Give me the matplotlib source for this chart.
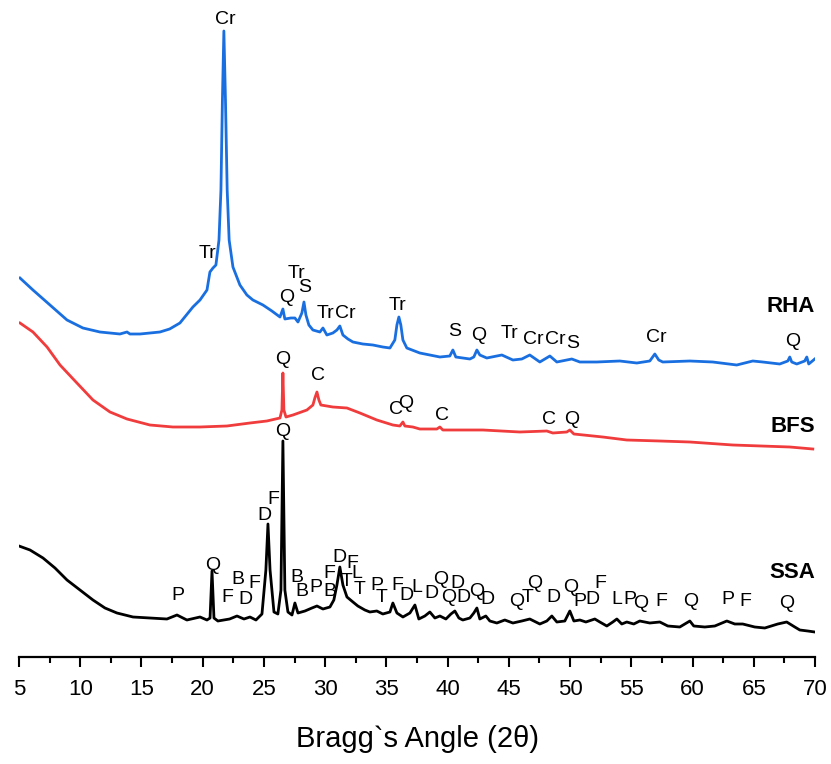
import matplotlib
matplotlib.use("Agg")
import matplotlib.pyplot as plt
from matplotlib.ticker import MultipleLocator

plt.rcParams['font.family'] = ['Liberation Sans', 'DejaVu Sans']

# ---------- XRD patterns (2theta, intensity a.u.) ----------
rha_2theta = [5.08, 6.14, 7.53, 8.92, 10.22, 11.61, 13.24, 13.82, 14.06, 14.88, 15.7, 16.51,
              17.3, 18.14, 19.2, 19.78, 20.35, 20.59, 20.84, 21.08, 21.33, 21.49, 21.61, 21.73,
              21.86, 22.0, 22.16, 22.47, 23.04, 23.61, 24.1, 24.92, 25.65, 26.31, 26.55,
              26.71, 27.2, 27.53, 27.78, 28.1, 28.27, 28.43, 28.67, 29.0, 29.57, 29.82,
              30.14, 30.63, 30.96, 31.2, 31.45, 31.86, 32.27, 33.08, 33.9, 34.71, 35.29,
              35.69, 35.86, 36.02, 36.18, 36.35, 36.67, 37.73, 39.37, 40.18, 40.43, 40.67,
              41.82, 42.14, 42.39, 42.63, 43.2, 44.43, 45.33, 46.06, 46.71, 47.53, 48.35,
              48.92, 50.14, 50.8, 52.18, 54.06, 55.45, 56.51, 56.92, 57.24, 57.57, 59.78,
              61.65, 63.61, 64.92, 65.73, 67.12, 67.78, 67.94, 68.1, 68.51, 69.16, 69.33,
              69.49, 69.98]
rha_int = [379, 367, 352, 337, 329, 325, 323, 325, 323, 323, 324, 325,
           328, 334, 350, 357, 367, 385, 389, 392, 417, 467, 557, 626,
           557, 467, 417, 390, 372, 362, 357, 352, 346, 340, 348,
           338, 339, 339, 335, 344, 355, 342, 332, 327, 325, 329,
           322, 324, 327, 331, 322, 318, 315, 313, 312, 310, 309,
           317, 332, 340, 332, 317, 309, 304, 300, 301, 307, 300,
           298, 300, 307, 302, 299, 302, 297, 298, 302, 295, 301,
           295, 298, 295, 295, 296, 294, 296, 303, 297, 295, 296,
           295, 292, 296, 295, 293, 296, 300, 295, 293, 296, 300,
           293, 298]

bfs_2theta = [5.08, 6.14, 7.29, 8.35, 9.73, 11.04, 12.43, 13.82, 15.69, 17.57, 19.78,
              21.98, 23.86, 25.24, 26.31, 26.47, 26.55, 26.63, 26.8, 27.37, 28.51, 29.0,
              29.16, 29.33, 29.49, 29.65, 30.63, 31.78, 32.84, 34.22, 35.53, 36.1, 36.35,
              36.51, 37.16, 37.73, 39.12, 39.37, 39.61, 42.88, 45.9, 48.1, 48.59, 49.73,
              49.98, 50.31, 52.67, 54.63, 57.33, 59.78, 63.29, 67.94, 69.82]
bfs_int = [334, 325, 310, 292, 274, 257, 245, 238, 232, 230, 230,
           231, 234, 236, 239, 247, 284, 247, 240, 242, 247, 252,
           259, 265, 257, 252, 250, 249, 244, 237, 232, 231, 235,
           231, 230, 228, 228, 230, 227, 227, 225, 226, 224, 225,
           227, 223, 220, 217, 216, 215, 212, 210, 208]

ssa_2theta = [5.0, 5.9, 6.96, 7.94, 8.92, 9.98, 11.04, 12.02, 13.0, 14.31, 15.69, 17.08,
              17.9, 18.71, 19.78, 20.35, 20.6, 20.76, 20.92, 21.24, 22.2, 22.8, 23.37,
              23.86, 24.35, 24.84, 25.16, 25.33, 25.5, 25.82, 26.14, 26.39, 26.55, 26.71,
              26.96, 27.29, 27.53, 27.78, 28.35, 28.92, 29.33, 29.82, 30.39, 30.71, 30.96,
              31.2, 31.45, 31.78, 32.27, 32.67, 33.24, 33.65, 34.22, 34.71, 35.29, 35.53,
              35.86, 36.35, 36.92, 37.33, 37.65, 38.14, 38.55, 38.96, 39.37, 39.86, 40.27,
              40.59, 40.92, 41.24, 41.82, 42.14, 42.39, 42.63, 43.12, 43.45, 44.02, 44.67,
              45.33, 46.06, 46.71, 47.53, 48.1, 48.51, 48.92, 49.57, 49.98, 50.31, 50.8,
              51.29, 52.02, 52.43, 53.0, 53.49, 53.82, 54.22, 54.63, 55.2, 55.69, 56.51,
              57.33, 57.98, 58.96, 59.78, 60.1, 61.0, 61.82, 62.8, 63.45, 64.1, 65.08,
              65.9, 66.96, 67.69, 68.35, 68.76, 69.41, 69.98]
ssa_int = [111, 107, 99, 89, 77, 67, 57, 49, 44, 40, 39, 38,
           42, 37, 40, 37, 39, 86, 39, 36, 38, 41, 38,
           40, 37, 43, 87, 133, 87, 45, 43, 67, 216, 67,
           45, 42, 54, 44, 46, 49, 51, 48, 50, 57, 72,
           90, 72, 60, 55, 51, 47, 45, 46, 43, 45, 54,
           44, 40, 44, 52, 38, 41, 45, 39, 41, 38, 43,
           46, 39, 37, 39, 44, 49, 38, 41, 36, 34, 37,
           34, 36, 38, 33, 36, 41, 35, 36, 46, 36, 37,
           35, 38, 35, 31, 35, 38, 33, 35, 33, 36, 34,
           35, 31, 30, 36, 31, 30, 31, 36, 33, 33, 30,
           29, 33, 35, 30, 27, 26, 25]

# ---------- phase labels: (text, 2theta, intensity) ----------
rha_peaks = [("Cr", 21.82, 637), ("Tr", 20.43, 404), ("Q", 26.88, 360), ("Tr", 27.69, 384),
             ("S", 28.35, 370), ("Tr", 30.06, 344), ("Cr", 31.61, 344), ("Tr", 35.94, 352),
             ("S", 40.59, 325), ("Q", 42.55, 322), ("Tr", 45.08, 323), ("Cr", 46.96, 318),
             ("Cr", 48.76, 317), ("S", 50.22, 314), ("Cr", 57.08, 320), ("Q", 68.18, 316)]

bfs_peaks = [("Q", 26.55, 297), ("C", 29.41, 281), ("C", 35.78, 247), ("Q", 36.59, 254),
             ("C", 39.53, 242), ("C", 48.27, 238), ("Q", 50.14, 237)]

ssa_peaks = [("P", 17.98, 62), ("Q", 20.84, 92), ("F", 21.98, 59), ("B", 22.88, 77),
             ("D", 23.53, 57), ("F", 24.18, 74), ("D", 25.08, 142), ("F", 25.73, 157),
             ("Q", 26.55, 225), ("B", 27.69, 80), ("B", 28.1, 65), ("P", 29.24, 69),
             ("F", 30.31, 83), ("B", 30.39, 66), ("D", 31.2, 100), ("F", 32.18, 93),
             ("T", 31.78, 76), ("L", 32.59, 84), ("T", 32.84, 68), ("P", 34.22, 72),
             ("T", 34.63, 60), ("F", 35.86, 72), ("D", 36.67, 61), ("L", 37.49, 69),
             ("D", 38.71, 64), ("Q", 39.45, 78), ("Q", 40.1, 59), ("D", 40.84, 74),
             ("D", 41.33, 59), ("Q", 42.39, 65), ("D", 43.29, 57), ("Q", 45.65, 55),
             ("T", 46.55, 59), ("Q", 47.12, 74), ("D", 48.67, 60), ("Q", 50.06, 70),
             ("P", 50.8, 55), ("D", 51.86, 58), ("F", 52.43, 74), ("L", 53.82, 57),
             ("P", 54.88, 58), ("Q", 55.78, 54), ("F", 57.49, 55), ("Q", 59.86, 56),
             ("P", 62.88, 58), ("F", 64.27, 56), ("Q", 67.69, 54)]

sample_names = ["RHA", "BFS", "SSA"]
sample_label_y = [350, 231, 84]

# ---------- plot ----------
fig = plt.figure(figsize=(8.31, 7.64), dpi=100)
ax = fig.add_axes([19 / 831, 107 / 764, 796 / 831, 657 / 764])

ax.plot(rha_2theta, rha_int, color='#1a6fe0', lw=2.0)
ax.plot(bfs_2theta, bfs_int, color='#f03c3c', lw=2.0)
ax.plot(ssa_2theta, ssa_int, color='black', lw=2.0)

for peaks in (rha_peaks, bfs_peaks, ssa_peaks):
    for txt, x, y in peaks:
        ax.text(x, y, txt, fontsize=14, ha='center', va='center', clip_on=False)

for name, y in zip(sample_names, sample_label_y):
    ax.text(70, y, name, fontsize=16, fontweight='bold', ha='right', va='center')

ax.set_xlim(5, 70)
ax.set_ylim(0, 657)
ax.xaxis.set_major_locator(MultipleLocator(5))
ax.xaxis.set_minor_locator(MultipleLocator(2.5))
ax.tick_params(axis='x', which='major', length=7, width=1.5, labelsize=16, pad=9)
ax.tick_params(axis='x', which='minor', length=4, width=1.5)
ax.set_yticks([])
for side in ('left', 'right', 'top'):
    ax.spines[side].set_visible(False)
ax.spines['bottom'].set_linewidth(1.6)
ax.set_xlabel("Bragg`s Angle (2θ)", fontsize=21, labelpad=18)

fig.savefig("out.png", dpi=100)
